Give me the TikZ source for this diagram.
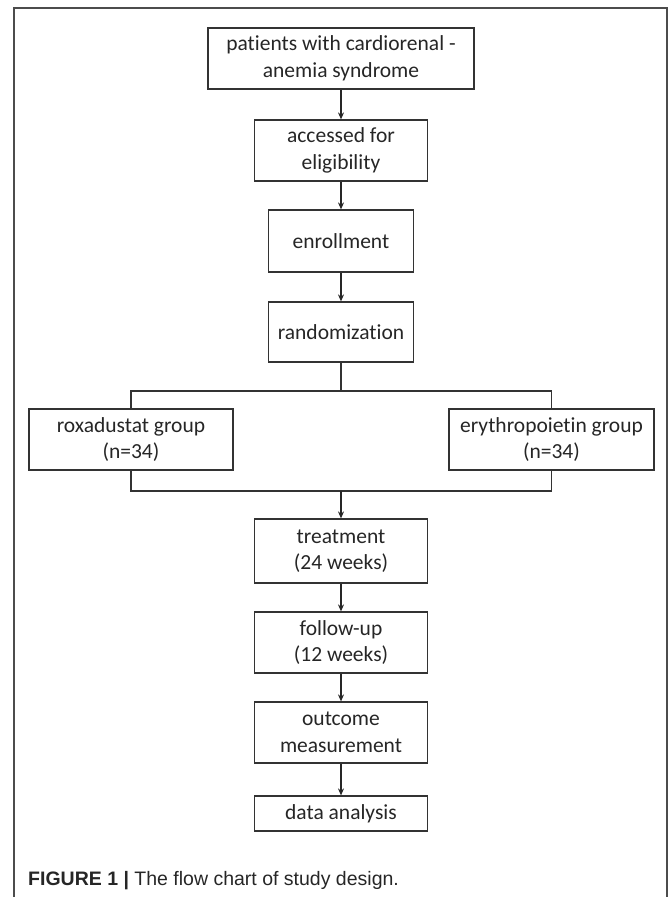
\documentclass[tikz,border=0pt]{standalone}
\usepackage{fontspec}
\setmainfont{Carlito}[Ligatures={NoCommon}]
\newfontfamily\capfont{Liberation Sans}
\usetikzlibrary{arrows.meta}

\tikzset{
    box/.style={draw=black!80, line width=1.2pt, rectangle, align=center,
        inner sep=0pt, text=black!85, font=\fontsize{21.5}{26.5}\selectfont},
    arr/.style={draw=black!85, line width=1.2pt,
        -{Stealth[length=7pt,width=6pt]}},
    link/.style={draw=black!80, line width=1.2pt}
}

\begin{document}
\begin{tikzpicture}[x=1pt,y=-1pt]
        \useasboundingbox (0,0) rectangle (669,897);
        \draw[black!70, line width=1.6pt] (14,905) -- (14,8) -- (667,8) -- (667,905);

        \node[box, minimum width=266pt, minimum height=61pt] (pat) at (341,58.5)
            {patients with cardiorenal -\\anemia syndrome};
        \node[box, minimum width=173pt, minimum height=61pt] (acc) at (341,150.5)
            {accessed for\\eligibility};
        \node[box, minimum width=145pt, minimum height=62pt] (enr) at (341,241)
            {enrollment};
        \node[box, minimum width=145pt, minimum height=60pt] (rand) at (341,332)
            {randomization};
        \node[box, minimum width=204pt, minimum height=61pt] (roxa) at (131,439.5)
            {roxadustat group\\(n=34)};
        \node[box, minimum width=205pt, minimum height=61pt] (epo) at (551.5,439.5)
            {erythropoietin group\\(n=34)};
        \node[box, minimum width=173pt, minimum height=64pt] (treat) at (341,551)
            {treatment\\(24 weeks)};
        \node[box, minimum width=173pt, minimum height=61pt] (follow) at (341,642.5)
            {follow-up\\(12 weeks)};
        \node[box, minimum width=173pt, minimum height=61pt] (outc) at (341,732.5)
            {outcome\\measurement};
        \node[box, minimum width=173pt, minimum height=35pt] (data) at (341,813.5)
            {data analysis};

        \coordinate (split) at (341,391);
        \coordinate (merge) at (341,491);

        \foreach \a/\b in {pat/acc, acc/enr, enr/rand, treat/follow, follow/outc, outc/data}
            \draw[arr] (\a) -- (\b);

        \draw[link] (rand.south) -- (split);
        \draw[link] (roxa.north) |- (split) -| (epo.north);
        \draw[link] (roxa.south) |- (merge) -| (epo.south);
        \draw[arr] (merge) -- (treat.north);

        \node[anchor=base west, inner sep=0pt, text=black!85,
            font=\capfont\fontsize{19.5}{23}\selectfont] (caption) at (28,885)
            {\textbf{FIGURE 1 |} The flow chart of study design.};
    \end{tikzpicture}
\end{document}
